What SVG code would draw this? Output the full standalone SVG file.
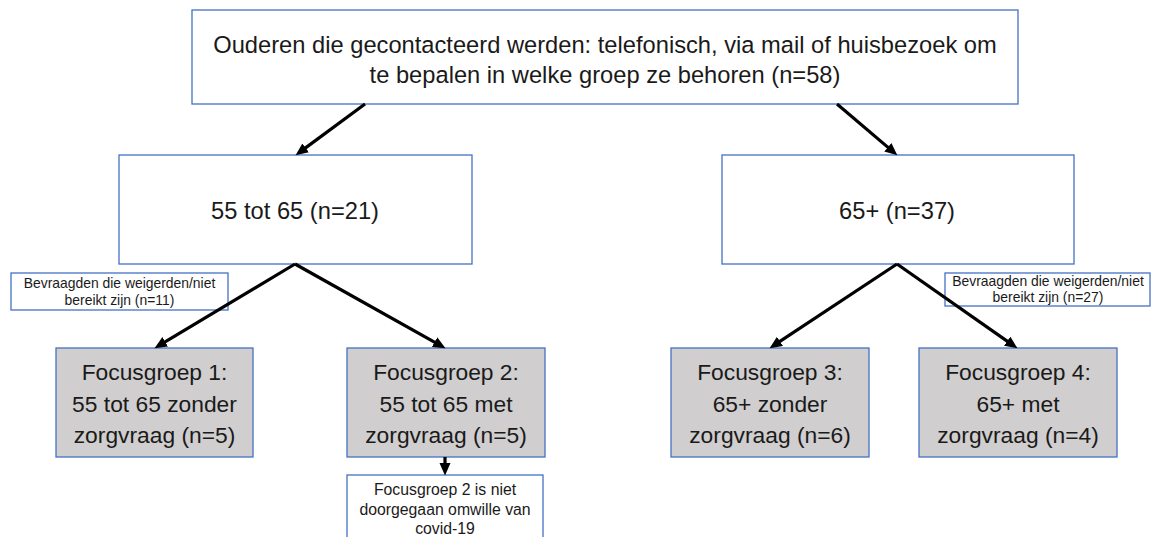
<svg xmlns="http://www.w3.org/2000/svg" width="1153" height="537" viewBox="0 0 1153 537">
<style>
.box{fill:#ffffff;stroke:#4472C4;stroke-width:1.3}
.fg{fill:#D0CECE;stroke:#4472C4;stroke-width:1.3}
.t{font-family:"Liberation Sans",Arial,sans-serif;fill:#1a1a1a;text-anchor:middle}
.big{font-size:23.7px}
.mid{font-size:22.8px}
.sm{font-size:13.9px}
.n3{font-size:15.8px}
.conn{stroke:#000;stroke-width:3.2;fill:none;marker-end:url(#ah)}
</style>
<defs>
<marker id="ah" markerUnits="userSpaceOnUse" markerWidth="13" markerHeight="12" refX="6" refY="5.5" orient="auto">
<path d="M0,0 L12.5,5.5 L0,11 z" fill="#000"/>
</marker>
</defs>
<rect width="1153" height="537" fill="#ffffff"/>
<g id="top">
<rect class="box" x="192" y="10" width="826" height="94"/>
<text class="t big" x="605" y="53">Ouderen die gecontacteerd werden: telefonisch, via mail of huisbezoek om</text>
<text class="t big" x="605" y="83">te bepalen in welke groep ze behoren (n=58)</text>
</g>
<g id="age55">
<rect class="box" x="119" y="155" width="353" height="109"/>
<text class="t big" x="295" y="219">55 tot 65 (n=21)</text>
</g>
<g id="age65">
<rect class="box" x="722" y="155" width="352" height="109"/>
<text class="t big" x="897" y="219">65+ (n=37)</text>
</g>
<g id="note1">
<rect class="box" x="11" y="273" width="217" height="37"/>
<text class="t sm" x="119.5" y="288">Bevraagden die weigerden/niet</text>
<text class="t sm" x="119.5" y="305">bereikt zijn (n=11)</text>
</g>
<g id="note2">
<rect class="box" x="945" y="273" width="205" height="33"/>
<text class="t sm" x="1048" y="286">Bevraagden die weigerden/niet</text>
<text class="t sm" x="1048" y="302">bereikt zijn (n=27)</text>
</g>
<g id="fg1">
<rect class="fg" x="56" y="348" width="197" height="109"/>
<text class="t mid" x="154.5" y="380">Focusgroep 1:</text>
<text class="t mid" x="154.5" y="412">55 tot 65 zonder</text>
<text class="t mid" x="154.5" y="443">zorgvraag (n=5)</text>
</g>
<g id="fg2">
<rect class="fg" x="347" y="348" width="198" height="109"/>
<text class="t mid" x="446" y="380">Focusgroep 2:</text>
<text class="t mid" x="446" y="412">55 tot 65 met</text>
<text class="t mid" x="446" y="443">zorgvraag (n=5)</text>
</g>
<g id="fg3">
<rect class="fg" x="671" y="348" width="198" height="109"/>
<text class="t mid" x="770" y="380">Focusgroep 3:</text>
<text class="t mid" x="770" y="412">65+ zonder</text>
<text class="t mid" x="770" y="443">zorgvraag (n=6)</text>
</g>
<g id="fg4">
<rect class="fg" x="919" y="348" width="198" height="109"/>
<text class="t mid" x="1018" y="380">Focusgroep 4:</text>
<text class="t mid" x="1018" y="412">65+ met</text>
<text class="t mid" x="1018" y="443">zorgvraag (n=4)</text>
</g>
<g id="note3">
<rect class="box" x="347" y="475" width="196" height="70"/>
<text class="t n3" x="445" y="495">Focusgroep 2 is niet</text>
<text class="t n3" x="445" y="515">doorgegaan omwille van</text>
<text class="t n3" x="445" y="534">covid-19</text>
</g>
<g id="connectors">
<line class="conn" x1="365" y1="104" x2="300.8" y2="151.4"/>
<line class="conn" x1="837" y1="104" x2="892.4" y2="151.1"/>
<line class="conn" x1="295" y1="264" x2="160.1" y2="344.9"/>
<line class="conn" x1="295" y1="264" x2="439.8" y2="345.1"/>
<line class="conn" x1="897" y1="264" x2="775" y2="344.7"/>
<line class="conn" x1="897" y1="264" x2="1012.1" y2="344.6"/>
<line class="conn" x1="445" y1="457" x2="445" y2="469"/>
</g>
</svg>
